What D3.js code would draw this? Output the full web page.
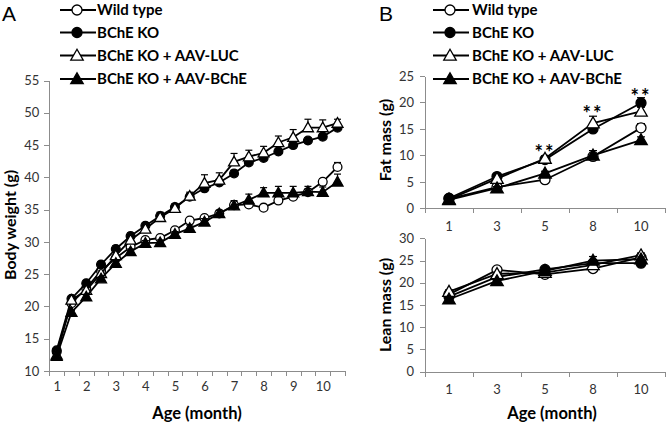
<!DOCTYPE html>
<html><head><meta charset="utf-8">
<script src="https://cdn.jsdelivr.net/npm/d3@7"></script>
<style>
body{margin:0;background:#fff;}
svg{display:block;font-family:"Lato","Liberation Sans",sans-serif;}
.axis path,.axis line{stroke:#8c8c8c;stroke-width:1;shape-rendering:crispEdges;}
.axis text{fill:#333;font-size:13px;font-family:"Lato",sans-serif;}
</style></head>
<body>
<svg id="c" width="667" height="423"></svg>
<script>
// ---------- data ----------
const seriesNames = ["Wild type","BChE KO","BChE KO + AAV-LUC","BChE KO + AAV-BChE"];
const ageA = [1,1.5,2,2.5,3,3.5,4,4.5,5,5.5,6,6.5,7,7.5,8,8.5,9,9.5,10,10.5];
const ageTickLabelsA = [1,2,3,4,5,6,7,8,9,10];
const wtA   = [13.0,20.5,22.8,25.5,27.5,29.2,30.3,30.6,31.8,33.3,33.7,34.4,35.7,35.8,35.3,36.4,37.0,37.7,39.3,41.6];
const koA   = [13.2,21.2,23.6,26.5,28.9,30.9,32.5,34.0,35.4,37.0,38.3,39.2,40.6,42.3,43.0,44.0,45.0,45.7,46.3,47.7];
const lucA  = [12.5,21.0,22.5,25.1,27.9,30.3,32.0,33.8,35.2,37.1,39.1,39.6,42.4,43.2,43.8,45.4,46.2,47.7,47.7,48.4];
const bcheA = [12.3,19.1,21.5,24.3,26.7,28.5,29.8,29.9,31.2,32.1,33.1,34.4,35.6,36.5,37.6,37.6,37.6,37.8,37.7,39.3];
const wtErrA   = [0.3,0.3,0.3,0.3,0.3,0.3,0.4,0.4,0.4,0.4,0.4,0.4,0.5,0.5,0.5,0.5,0.5,0.5,0.5,0.7];
const koErrA   = [0.3,0.3,0.4,0.4,0.5,0.5,0.5,0.5,0.5,0.5,0.5,0.5,0.5,0.5,0.5,0.5,0.5,0.4,0.4,0.4];
const lucErrA  = [0.3,0.4,0.4,0.4,0.5,0.6,0.6,0.8,0.6,0.6,1.3,1.1,1.3,1.0,1.0,1.0,1.2,1.3,1.2,0.6];
const bcheErrA = [0.3,0.3,0.3,0.3,0.4,0.4,0.4,0.4,0.4,0.5,0.5,0.5,0.8,0.9,0.8,1.0,1.0,0.8,0.8,1.2];
const yTicksA = [10,15,20,25,30,35,40,45,50,55];

const ageB = ["1","3","5","8","10"];
const wtFat   = [1.8,4.0,5.4,9.8,15.2];
const koFat   = [1.9,6.0,9.2,15.0,19.9];
const lucFat  = [1.7,5.6,9.4,16.1,18.3];
const bcheFat = [1.6,3.8,6.6,10.0,12.9];
const wtFatErr   = [0.2,0.3,0.3,0.6,0.8];
const koFatErr   = [0.2,0.4,0.4,0.6,1.0];
const lucFatErr  = [0.2,0.5,0.5,1.3,0.8];
const bcheFatErr = [0.2,0.3,0.4,0.9,0.6];
const yTicksFat = [0,5,10,15,20,25];
const sigAges = ["5","8","10"];
const sigY    = [12.0,19.3,22.6];

const wtLean   = [17.4,22.9,21.9,23.2,25.7];
const koLean   = [16.9,21.3,23.0,24.4,24.4];
const lucLean  = [18.0,22.0,22.3,24.0,26.2];
const bcheLean = [16.3,20.4,22.7,25.0,25.3];
const wtLeanErr   = [0.4,0.4,0.4,0.4,0.5];
const koLeanErr   = [0.4,0.4,0.4,0.4,0.4];
const lucLeanErr  = [0.4,0.4,0.4,0.4,0.5];
const bcheLeanErr = [0.4,0.4,0.4,0.9,0.5];
const yTicksLean = [0,5,10,15,20,25,30];

// ---------- helpers ----------
const svg = d3.select("#c");
const styles = [
  {shape:"circle", fill:"#fff"},
  {shape:"circle", fill:"#000"},
  {shape:"triangle", fill:"#fff"},
  {shape:"triangle", fill:"#000"}
];
function marker(g, cx, cy, st, r){
  if(st.shape==="circle"){
    g.append("circle").attr("cx",cx).attr("cy",cy).attr("r",r)
      .attr("fill",st.fill).attr("stroke","#000").attr("stroke-width",1.3);
  } else {
    const s = r*1.25;
    g.append("path").attr("d",`M${cx},${cy-s}L${cx+s},${cy+s*0.75}L${cx-s},${cy+s*0.75}Z`)
      .attr("fill",st.fill).attr("stroke","#000").attr("stroke-width",1.3).attr("stroke-linejoin","miter");
  }
}
function drawSeries(g, xs, vals, errs, xScale, yScale, st, r, cap){
  const pts = xs.map((x,i)=>[xScale(x), yScale(vals[i]), yScale(vals[i]+errs[i])]);
  pts.forEach(p=>{
    g.append("line").attr("x1",p[0]).attr("x2",p[0]).attr("y1",p[1]).attr("y2",p[2]).attr("stroke","#000").attr("stroke-width",1.2);
    g.append("line").attr("x1",p[0]-cap).attr("x2",p[0]+cap).attr("y1",p[2]).attr("y2",p[2]).attr("stroke","#000").attr("stroke-width",1.2);
  });
  g.append("path").attr("d", d3.line()(pts.map(p=>[p[0],p[1]])))
    .attr("fill","none").attr("stroke","#000").attr("stroke-width",1.8);
  pts.forEach(p=>marker(g,p[0],p[1],st,r));
}
function legend(x0, textX){
  const ys=[10,32.5,55.5,79];
  seriesNames.forEach((n,i)=>{
    const g=svg.append("g");
    g.append("line").attr("x1",x0).attr("x2",x0+36).attr("y1",ys[i]).attr("y2",ys[i]).attr("stroke","#000").attr("stroke-width",1.8);
    marker(g,x0+17,ys[i],styles[i],5);
    g.append("text").attr("x",textX).attr("y",ys[i]).attr("dy","0.36em")
      .attr("font-size",15).attr("font-weight","bold").attr("fill","#000").text(n);
  });
}

// ---------- Panel A ----------
const xA = d3.scaleLinear().domain([0.75,10.75]).range([49.3,344.9]);
const yA = d3.scaleLinear().domain([10,55]).range([371,80.5]);
const gA = svg.append("g");
const boundsA = d3.range(21).map(k=>0.75+k*0.5);
gA.append("g").attr("class","axis").attr("transform","translate(0,371)")
  .call(d3.axisBottom(xA).tickValues(boundsA).tickFormat("").tickSizeInner(5).tickSizeOuter(0));
gA.append("g").attr("class","axis").attr("transform","translate(0,371)")
  .call(d3.axisBottom(xA).tickValues(ageTickLabelsA).tickFormat(d3.format("d")).tickSize(0).tickPadding(11))
  .call(g=>g.select(".domain").remove());
gA.append("g").attr("class","axis").attr("transform","translate(49.3,0)")
  .call(d3.axisLeft(yA).tickValues(yTicksA).tickSizeInner(5).tickSizeOuter(0).tickPadding(5));
const seriesA=[[wtA,wtErrA],[koA,koErrA],[lucA,lucErrA],[bcheA,bcheErrA]];
seriesA.forEach((s,i)=>drawSeries(gA.append("g"),ageA,s[0],s[1],xA,yA,styles[i],4.4,3.5));
svg.append("text").attr("x",197).attr("y",413).attr("text-anchor","middle").attr("dy","0.35em")
  .attr("font-size",16.5).attr("font-weight","bold").text("Age (month)");
svg.append("text").attr("transform","translate(10,225) rotate(-90)").attr("text-anchor","middle").attr("dy","0.35em")
  .attr("font-size",16).attr("font-weight","bold").text("Body weight (g)");
svg.append("text").attr("x",2).attr("y",21).attr("font-size",21).attr("font-family","'Liberation Sans',sans-serif").text("A");
legend(60,97);

// ---------- Panel B ----------
const xB = d3.scaleBand().domain(ageB).range([425,665]);
const xBc = a=>xB(a)+xB.bandwidth()/2;
function panelB(y0,y1,domainMax,ticks,data,label,labelY){
  const y = d3.scaleLinear().domain([0,domainMax]).range([y0,y1]);
  const g = svg.append("g");
  g.append("g").attr("class","axis").attr("transform",`translate(0,${y0})`)
    .call(d3.axisBottom(xB).tickValues([]).tickSizeOuter(0));
  const bx=d3.scaleLinear().domain([0,5]).range([425,665]);
  g.append("g").attr("class","axis").attr("transform",`translate(0,${y0})`)
    .call(d3.axisBottom(bx).tickValues(d3.range(6)).tickFormat("").tickSizeInner(5).tickSizeOuter(0))
    .call(gg=>gg.select(".domain").remove());
  g.append("g").attr("class","axis").attr("transform",`translate(0,${y0})`)
    .call(d3.axisBottom(xB).tickSize(0).tickPadding(13))
    .call(gg=>gg.select(".domain").remove());
  g.append("g").attr("class","axis").attr("transform","translate(425,0)")
    .call(d3.axisLeft(y).tickValues(ticks).tickSizeInner(5).tickSizeOuter(0).tickPadding(6));
  data.forEach((s,i)=>drawSeries(g.append("g"),ageB,s[0],s[1],a=>xBc(a),y,styles[i],5,4));
  svg.append("text").attr("transform",`translate(385,${labelY}) rotate(-90)`).attr("text-anchor","middle").attr("dy","0.35em")
    .attr("font-size",16).attr("font-weight","bold").text(label);
  return y;
}
const yFat = panelB(208.3,76,25,yTicksFat,[[wtFat,wtFatErr],[koFat,koFatErr],[lucFat,lucFatErr],[bcheFat,bcheFatErr]],"Fat mass (g)",140);
panelB(371.7,238.3,30,yTicksLean,[[wtLean,wtLeanErr],[koLean,koLeanErr],[lucLean,lucLeanErr],[bcheLean,bcheLeanErr]],"Lean mass (g)",305);
sigAges.forEach((a,i)=>{
  svg.append("text").attr("x",xBc(a)).attr("y",yFat(sigY[i])).attr("text-anchor","middle").attr("dy","0.75em")
    .attr("font-size",20).attr("font-weight","bold").attr("letter-spacing","2px").text("**");
});
svg.append("text").attr("x",552).attr("y",413).attr("text-anchor","middle").attr("dy","0.35em")
  .attr("font-size",16.5).attr("font-weight","bold").text("Age (month)");
svg.append("text").attr("x",379).attr("y",21).attr("font-size",21).attr("font-family","'Liberation Sans',sans-serif").text("B");
legend(433,472);
</script>
</body></html>
